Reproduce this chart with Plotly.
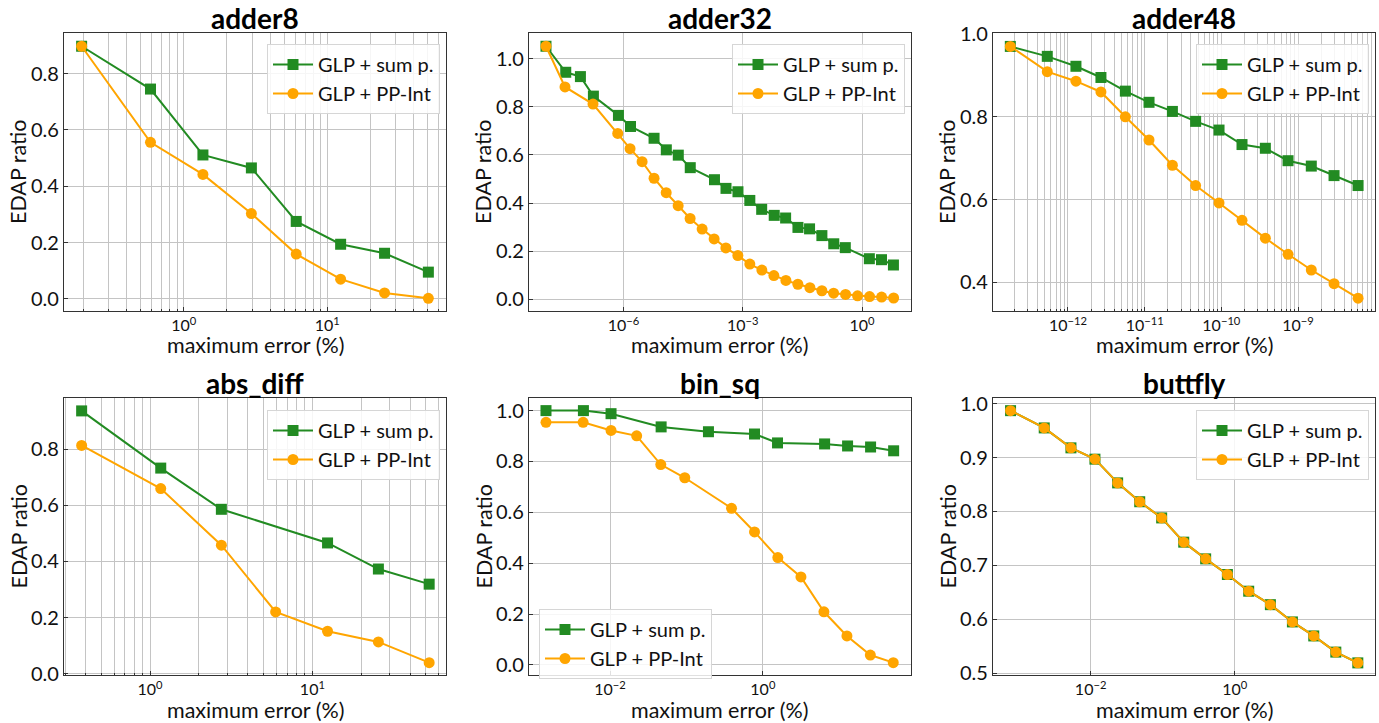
import math
import plotly.graph_objects as go

W, H = 1379, 723
GREEN = "#228B22"
ORANGE = "#FFA500"
FONT = "Lato"

titles = ["adder8", "adder32", "adder48", "abs_diff", "bin_sq", "buttfly"]
series_names = ["GLP + sum p.", "GLP + PP-Int"]

# ---- data (maximum error in %, EDAP ratio) ----
adder8_x_sum = [0.194, 0.586, 1.36, 2.96, 6.08, 12.4, 25.1, 50.7]
adder8_y_sum = [0.897, 0.745, 0.511, 0.465, 0.275, 0.194, 0.162, 0.095]
adder8_x_pp = [0.194, 0.586, 1.36, 2.96, 6.08, 12.4, 25.1, 50.7]
adder8_y_pp = [0.897, 0.556, 0.442, 0.303, 0.159, 0.070, 0.021, 0.002]

adder32_x_sum = [1.13e-8, 3.55e-8, 8.3e-8, 1.76e-7, 7.5e-7, 1.51e-6, 5.9e-6, 1.2e-5,
                 2.4e-5, 4.8e-5, 1.95e-4, 3.8e-4, 7.6e-4, 1.51e-3, 3.0e-3, 6.2e-3,
                 0.012, 0.0245, 0.048, 0.098, 0.195, 0.38, 1.53, 3.09, 6.17]
adder32_y_sum = [1.051, 0.943, 0.925, 0.844, 0.764, 0.718, 0.669, 0.621, 0.599, 0.547,
                 0.497, 0.461, 0.447, 0.411, 0.374, 0.349, 0.338, 0.299, 0.293, 0.265,
                 0.231, 0.215, 0.169, 0.165, 0.143]
adder32_x_pp = [1.13e-8, 3.4e-8, 1.72e-7, 7.2e-7, 1.47e-6, 2.95e-6, 5.9e-6, 1.19e-5,
                2.38e-5, 4.76e-5, 9.55e-5, 1.91e-4, 3.77e-4, 7.55e-4, 1.51e-3, 3.03e-3,
                6.08e-3, 0.0122, 0.0244, 0.049, 0.098, 0.193, 0.386, 0.773, 1.55, 3.11, 6.24]
adder32_y_pp = [1.051, 0.882, 0.811, 0.689, 0.626, 0.572, 0.503, 0.443, 0.389, 0.336,
                0.292, 0.251, 0.214, 0.182, 0.147, 0.122, 0.099, 0.079, 0.063, 0.049,
                0.036, 0.026, 0.021, 0.015, 0.012, 0.010, 0.006]

adder48_x_sum = [1.77e-13, 5.37e-13, 1.27e-12, 2.69e-12, 5.6e-12, 1.14e-11, 2.30e-11,
                 4.62e-11, 9.33e-11, 1.86e-10, 3.75e-10, 7.41e-10, 1.49e-9, 2.95e-9, 6.07e-9]
adder48_y_sum = [0.970, 0.946, 0.922, 0.895, 0.862, 0.835, 0.813, 0.789, 0.768, 0.733,
                 0.724, 0.694, 0.681, 0.658, 0.634]
adder48_x_pp = [1.77e-13, 5.37e-13, 1.27e-12, 2.69e-12, 5.6e-12, 1.14e-11, 2.30e-11,
                4.62e-11, 9.33e-11, 1.86e-10, 3.75e-10, 7.41e-10, 1.49e-9, 2.95e-9, 6.07e-9]
adder48_y_pp = [0.970, 0.909, 0.886, 0.860, 0.800, 0.744, 0.683, 0.634, 0.592, 0.550,
                0.507, 0.468, 0.430, 0.397, 0.362]

absdiff_x_sum = [0.379, 1.164, 2.75, 12.4, 25.5, 52.4]
absdiff_y_sum = [0.937, 0.733, 0.586, 0.466, 0.373, 0.319]
absdiff_x_pp = [0.379, 1.164, 2.75, 5.94, 12.4, 25.5, 52.4]
absdiff_y_pp = [0.814, 0.660, 0.458, 0.220, 0.151, 0.113, 0.039]

binsq_x_sum = [1.45e-3, 4.48e-3, 0.0103, 0.0466, 0.194, 0.778, 1.556, 6.43, 12.85, 25.7, 51.5]
binsq_y_sum = [1.000, 1.000, 0.988, 0.936, 0.917, 0.908, 0.873, 0.869, 0.861, 0.857, 0.842]
binsq_x_pp = [1.45e-3, 4.44e-3, 0.0103, 0.0223, 0.0461, 0.095, 0.389, 0.778, 1.57, 3.15,
              6.3, 12.6, 25.5, 50.9]
binsq_y_pp = [0.954, 0.954, 0.922, 0.901, 0.788, 0.736, 0.616, 0.523, 0.422, 0.346,
              0.209, 0.114, 0.039, 0.009]

buttfly_x_sum = [7.74e-4, 2.27e-3, 5.33e-3, 0.01148, 0.0237, 0.048, 0.0968, 0.196, 0.395,
                 0.791, 1.563, 3.126, 6.32, 12.5, 25.3, 51.1]
buttfly_y_sum = [0.987, 0.955, 0.918, 0.897, 0.853, 0.818, 0.788, 0.743, 0.712, 0.683,
                 0.652, 0.627, 0.595, 0.569, 0.539, 0.519]
buttfly_x_pp = list(buttfly_x_sum)
buttfly_y_pp = list(buttfly_y_sum)

data = [
    (adder8_x_sum, adder8_y_sum, adder8_x_pp, adder8_y_pp),
    (adder32_x_sum, adder32_y_sum, adder32_x_pp, adder32_y_pp),
    (adder48_x_sum, adder48_y_sum, adder48_x_pp, adder48_y_pp),
    (absdiff_x_sum, absdiff_y_sum, absdiff_x_pp, absdiff_y_pp),
    (binsq_x_sum, binsq_y_sum, binsq_x_pp, binsq_y_pp),
    (buttfly_x_sum, buttfly_y_sum, buttfly_x_pp, buttfly_y_pp),
]

# axis settings
x_ranges = [(-0.835, 1.828), (-8.374, 1.232), (-12.978, -7.996),
            (-0.530, 1.823), (-3.061, 1.939), (-3.355, 1.947)]
x_major = [[0, 1], [-6, -3, 0], [-12, -11, -10, -9], [0, 1], [-2, 0], [-2, 0]]
x_minor = [True, False, True, True, False, False]
y_ranges = [(-0.043, 0.944), (-0.048, 1.106), (0.331, 1.0024),
            (-0.005, 0.983), (-0.0395, 1.0496), (0.4965, 1.0105)]
y_ticks = [[0.0, 0.2, 0.4, 0.6, 0.8], [0.0, 0.2, 0.4, 0.6, 0.8, 1.0], [0.4, 0.6, 0.8, 1.0],
           [0.0, 0.2, 0.4, 0.6, 0.8], [0.0, 0.2, 0.4, 0.6, 0.8, 1.0],
           [0.5, 0.6, 0.7, 0.8, 0.9, 1.0]]
legend_pos = [(267, 44), (732, 44), (1196, 44), (267, 410), (539, 609), (1196, 410)]

# layout geometry (px)
col_px = [(64, 446), (529, 911), (993, 1375)]
row_px = [(33, 311), (398, 675)]

YTICK_SIZE = 20
XTICK_SIZE = 16
LABEL_SIZE = 21.5
TITLE_SIZE = 28
LEGEND_SIZE = 20


def px_x(v):
    return v / W


def px_y(v):
    return 1 - v / H


fig = go.Figure()
layout = dict(
    width=W, height=H,
    margin=dict(l=0, r=0, t=0, b=0),
    paper_bgcolor="white", plot_bgcolor="white",
    font=dict(family=FONT, size=YTICK_SIZE, color="#111"),
    annotations=[],
)

GRID = "#c4c4c4"
LINE = "#333"

for i in range(6):
    r, c = divmod(i, 3)
    n = "" if i == 0 else str(i + 1)
    xs, ys, xp, yp = data[i]
    leg = "legend" if i == 0 else f"legend{i+1}"
    fig.add_trace(go.Scatter(
        x=xs, y=ys, mode="lines+markers", name=series_names[0],
        line=dict(color=GREEN, width=2),
        marker=dict(symbol="square", size=11, color=GREEN),
        xaxis="x" + n, yaxis="y" + n, legend=leg, legendgroup=f"g{i}a",
    ))
    fig.add_trace(go.Scatter(
        x=xp, y=yp, mode="lines+markers", name=series_names[1],
        line=dict(color=ORANGE, width=2),
        marker=dict(symbol="circle", size=11, color=ORANGE),
        xaxis="x" + n, yaxis="y" + n, legend=leg, legendgroup=f"g{i}b",
    ))

    lo, hi = x_ranges[i]
    majors = x_major[i]
    tickvals = [10.0 ** e for e in majors]
    ticktext = [("10<sup>%s</sup>" % (str(e).replace("-", "\u2212"))) for e in majors]
    minor = dict(showgrid=False, ticks="")
    if x_minor[i]:
        mv = []
        for d in range(math.floor(lo) - 1, math.ceil(hi) + 1):
            for k in range(2, 10):
                v = k * 10.0 ** d
                if lo <= math.log10(v) <= hi:
                    mv.append(v)
        minor = dict(tickmode="array", tickvals=mv, showgrid=True, gridcolor=GRID,
                     gridwidth=1, ticks="inside", ticklen=2, tickcolor=LINE)
    layout["xaxis" + n] = dict(
        type="log", range=[lo, hi],
        domain=[px_x(col_px[c][0]), px_x(col_px[c][1])],
        anchor="y" + n,
        tickmode="array", tickvals=tickvals, ticktext=ticktext,
        showgrid=True, gridcolor=GRID, gridwidth=1,
        showline=True, linecolor=LINE, linewidth=1.2, mirror=True,
        ticks="inside", ticklen=4, tickcolor=LINE,
        tickfont=dict(size=XTICK_SIZE, family=FONT, color="#111"),
        minor=minor, zeroline=False, automargin=False,
    )
    layout["yaxis" + n] = dict(
        range=list(y_ranges[i]),
        domain=[px_y(row_px[r][1]), px_y(row_px[r][0])],
        anchor="x" + n,
        tickmode="array", tickvals=y_ticks[i],
        ticktext=["%.1f" % v for v in y_ticks[i]],
        showgrid=True, gridcolor=GRID, gridwidth=1,
        showline=True, linecolor=LINE, linewidth=1.2, mirror=True,
        ticks="inside", ticklen=4, tickcolor=LINE,
        tickfont=dict(size=YTICK_SIZE, family=FONT, color="#111"),
        zeroline=False, automargin=False,
    )
    lx, ly = legend_pos[i]
    layout[leg] = dict(
        x=px_x(lx), y=px_y(ly), xanchor="left", yanchor="top",
        bgcolor="rgba(255,255,255,0.85)", bordercolor="#d6d6d6", borderwidth=1,
        font=dict(size=LEGEND_SIZE, family=FONT, color="#111"),
        tracegroupgap=0, itemwidth=40, traceorder="grouped",
    )

    cx = (col_px[c][0] + col_px[c][1]) / 2
    title_y = 18 if r == 0 else 383
    xlab_y = 344.5 if r == 0 else 709.5
    ylab_x = [18, 483, 947][c]
    cy = (row_px[r][0] + row_px[r][1]) / 2
    layout["annotations"] += [
        dict(text="<b>%s</b>" % titles[i], x=px_x(cx), y=px_y(title_y), xref="paper",
             yref="paper", xanchor="center", yanchor="middle", showarrow=False,
             font=dict(size=TITLE_SIZE, family=FONT, color="#000")),
        dict(text="maximum error (%)", x=px_x(cx), y=px_y(xlab_y), xref="paper",
             yref="paper", xanchor="center", yanchor="middle", showarrow=False,
             font=dict(size=LABEL_SIZE, family=FONT, color="#111")),
        dict(text="EDAP ratio", x=px_x(ylab_x), y=px_y(cy), xref="paper",
             yref="paper", xanchor="center", yanchor="middle", showarrow=False,
             textangle=-90, font=dict(size=LABEL_SIZE, family=FONT, color="#111")),
    ]

fig.update_layout(**layout)
fig.write_html("out.html")
